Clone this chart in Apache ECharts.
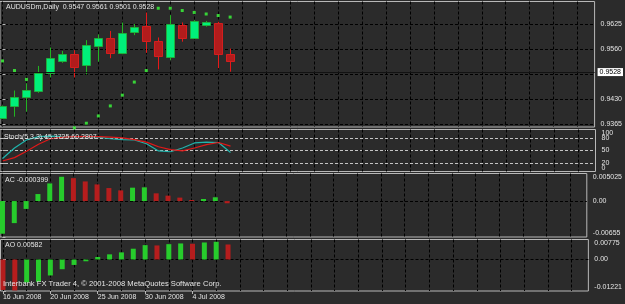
<!DOCTYPE html>
<html>
<head>
<meta charset="utf-8" />
<title>AUDUSDm,Daily</title>
<style>
  html, body { margin: 0; padding: 0; background: #2b2b2b; }
  #chart { width: 625px; height: 304px; }
</style>
</head>
<body>
<div id="chart"></div>
<script src="https://cdn.jsdelivr.net/npm/echarts@6/dist/echarts.min.js"></script>
<script>
// daily bars from 16 Jun 2008, bar index = position on the chart
var dateLabels = ['16 Jun 2008', '20 Jun 2008', '25 Jun 2008', '30 Jun 2008', '4 Jul 2008'];
var dateTicks = [0, 4, 8, 12, 16];
var gridTicks = [0, 2, 4, 6, 8, 10, 12, 14, 16, 18, 20, 22, 24, 26, 28, 30, 32, 34, 36, 38, 40, 42, 44, 46, 48];

var opens  = [0.9381, 0.9412, 0.9436, 0.9452, 0.9497, 0.9528, 0.9547, 0.9517, 0.9569, 0.9589,
              0.9549, 0.9605, 0.9621, 0.9582, 0.9540, 0.9622, 0.9589, 0.9621, 0.9627, 0.9547];
var highs  = [0.9413, 0.9452, 0.9471, 0.9516, 0.9564, 0.9555, 0.9557, 0.9583, 0.9598, 0.9607,
              0.9629, 0.9625, 0.9655, 0.9590, 0.9648, 0.9629, 0.9635, 0.9633, 0.9631, 0.9561];
var lows   = [0.9379, 0.9384, 0.9397, 0.9446, 0.9486, 0.9524, 0.9486, 0.9494, 0.9527, 0.9536,
              0.9546, 0.9596, 0.9550, 0.9507, 0.9531, 0.9579, 0.9588, 0.9618, 0.9510, 0.9501];
var closes = [0.9412, 0.9436, 0.9453, 0.9498, 0.9537, 0.9547, 0.9514, 0.9570, 0.9589, 0.9550,
              0.9601, 0.9618, 0.9582, 0.9542, 0.9625, 0.9589, 0.9634, 0.9629, 0.9546, 0.9528];

// parabolic SAR (bars 3-5 sit below the visible price range)
var sar = [0.9529, 0.9504, 0.9481, null, null, null, 0.9355, 0.9367, 0.9386, 0.9412,
           0.9440, 0.9474, 0.9504, 0.9666, 0.9666, 0.9660, 0.9655, 0.9651, 0.9647, 0.9643];

var stochMain   = [31, 56, 75, 83, 84, 83, 83, 83, 82, 78, 76, 75, 66, 49, 47, 56, 68, 70, 69, 45.3725];
var stochSignal = [25, 33, 48, 65, 78, 82, 83, 83, 83, 82, 80, 76, 70, 59, 52, 49, 56, 64, 69, 60.2807];

var acValues = [-0.00595, -0.00402, -0.00143, 0.00128, 0.00322, 0.00443, 0.00418, 0.00358, 0.00304, 0.00237,
                0.00195, 0.00244, 0.00250, 0.00141, 0.00099, 0.00063, 0.00020, 0.00038, 0.00069, -0.000399];
var aoValues = [-0.01180, -0.01200, -0.00894, -0.00868, -0.00619, -0.00377, -0.00211, -0.00069, 0.00096, 0.00200,
                0.00276, 0.00418, 0.00557, 0.00545, 0.00595, 0.00622, 0.00610, 0.00660, 0.00687, 0.00582];
var acPrev = -0.0072;   // value of the bar just left of the window
var aoPrev = -0.0110;

var priceTicks = [0.9365, 0.9430, 0.9495, 0.9560, 0.9625];
var stochTicks = [0, 20, 50, 80, 100];
var stochEnds = [0, 100];
var stochLevels = [20, 50, 80];
var acTicks = [-0.00655, 0, 0.005025];
var aoTicks = [-0.01221, 0, 0.00775];

var FONT = 'Liberation Sans';
var TXT = '#e4e4e4';
var BORDER = '#b8b8b8';
var UP_BODY = '#00f07a', UP_EDGE = '#1fae3c', UP_WICK = '#22b422';
var DN_BODY = '#b21c1c', DN_EDGE = '#d41e1e', DN_WICK = '#e81818';
var HIST_UP = '#27cc2c', HIST_DN = '#b51d1d';

var last = closes.length - 1;

var chart = echarts.init(document.getElementById('chart'));

// 12 px per bar, first bar centred at x = 2.5
var PLOT_W = 595.5;
var X_MIN = -2.5 / 12, X_MAX = X_MIN + PLOT_W / 12;
var gridBase = { left: 0, right: 625 - PLOT_W, show: true, borderColor: BORDER, borderWidth: 1 };
var grids = [
  Object.assign({ top: 1.5, height: 125.5 }, gridBase),
  Object.assign({ top: 129.5, height: 42 }, gridBase),
  Object.assign({ top: 173.5, height: 63.5 }, gridBase),
  Object.assign({ top: 239.5, height: 51.5 }, gridBase)
];

function xAxisFor(i) {
  return {
    type: 'value', gridIndex: i, min: X_MIN, max: X_MAX, position: 'bottom',
    axisLine: { show: false }, axisLabel: { show: false },
    axisTick: { show: false, customValues: gridTicks },
    splitLine: { show: true, lineStyle: { color: '#000', type: [3, 2], width: 1 } }
  };
}

function yAxisFor(i, min, max, ticks, labels, fmt, splitColors) {
  return {
    type: 'value', gridIndex: i, position: 'right', min: min, max: max,
    axisLine: { show: false },
    axisTick: { show: true, customValues: ticks, length: 3, lineStyle: { color: BORDER } },
    axisLabel: {
      show: true, customValues: labels, formatter: fmt, margin: 6,
      showMinLabel: true, showMaxLabel: true, hideOverlap: false,
      color: TXT, fontSize: 7, fontFamily: FONT,
      verticalAlignMinLabel: i === 0 ? null : 'bottom',
      verticalAlignMaxLabel: i === 0 ? null : 'top'
    },
    splitLine: { show: true, lineStyle: { color: splitColors, type: [3, 2], width: 1 } }
  };
}

var xAxes = [xAxisFor(0), xAxisFor(1), xAxisFor(2), xAxisFor(3), {
  type: 'value', gridIndex: 3, min: X_MIN, max: X_MAX, position: 'bottom',
  axisLine: { show: false }, splitLine: { show: false },
  axisTick: { show: true, customValues: dateTicks, length: 3, lineStyle: { color: BORDER } },
  axisLabel: {
    show: true, customValues: dateTicks, align: 'left', margin: 3,
    color: TXT, fontSize: 7, fontFamily: FONT,
    formatter: function (v) { return dateLabels[dateTicks.indexOf(v)]; }
  }
}];

var numFmt = function (v) { return v === 0 ? '0.00' : String(v); };

var yAxes = [
  yAxisFor(0, 0.93572, 0.96835, priceTicks, priceTicks, function (v) { return v.toFixed(4); }, '#000'),
  yAxisFor(1, 0, 100, stochTicks, stochEnds, function (v) { return String(v); },
    ['transparent', '#c4c4c4', '#c4c4c4', '#c4c4c4', 'transparent']),
  yAxisFor(2, acTicks[0], acTicks[2], acTicks, acTicks, numFmt, ['transparent', '#000', 'transparent']),
  yAxisFor(3, aoTicks[0], aoTicks[2], aoTicks, aoTicks, numFmt, ['transparent', '#000', 'transparent']),
  {
    // stochastic level labels, kept on their own axis so they may overlap 0 / 100
    type: 'value', gridIndex: 1, position: 'right', min: 0, max: 100,
    axisLine: { show: false }, axisTick: { show: false }, splitLine: { show: false },
    axisLabel: {
      show: true, customValues: stochLevels, margin: 6,
      showMinLabel: true, showMaxLabel: true,
      color: TXT, fontSize: 7, fontFamily: FONT
    }
  }
];

var candleData = opens.map(function (o, i) { return [i, o, closes[i], lows[i], highs[i]]; });
var sarData = sar.map(function (v, i) { return [i, v]; }).filter(function (d) { return d[1] != null; });

function histColor(values, prev) {
  return function (p) {
    var before = p.dataIndex === 0 ? prev : values[p.dataIndex - 1];
    return values[p.dataIndex] >= before ? HIST_UP : HIST_DN;
  };
}

function titleText(text, left, top, size) {
  return {
    text: text, left: left, top: top, padding: 0,
    textStyle: { color: TXT, fontSize: size || 7, fontWeight: 'normal', fontFamily: FONT, lineHeight: 8 }
  };
}

var option = {
  backgroundColor: '#2b2b2b',
  animation: false,
  title: [
    titleText('AUDUSDm,Daily  ' + [opens[last], highs[last], lows[last], closes[last]].map(function (v) { return v.toFixed(4); }).join(' '), 6, 3),
    titleText('Stoch(5,3,3) ' + stochMain[last].toFixed(4) + ' ' + stochSignal[last].toFixed(4), 4, 133),
    titleText('AC ' + acValues[last].toFixed(6), 5, 176),
    titleText('AO ' + aoValues[last].toFixed(5), 5, 241),
    titleText('Interbank FX Trader 4, \u00a9 2001-2008 MetaQuotes Software Corp.', 3, 280, 7.6)
  ],
  grid: grids,
  xAxis: xAxes,
  yAxis: yAxes,
  series: [
    {
      type: 'scatter', xAxisIndex: 0, yAxisIndex: 0, data: sarData, clip: false,
      symbol: 'rect', symbolSize: 3, itemStyle: { color: '#3cff3c' }, z: 2,
      markLine: {
        silent: true, symbol: 'none', animation: false,
        lineStyle: { color: '#121212', type: 'solid', width: 1 },
        label: {
          position: 'end', distance: 3, formatter: closes[last].toFixed(4),
          backgroundColor: '#ffffff', color: '#000', padding: [1, 2, 0, 2],
          fontSize: 7, fontFamily: FONT
        },
        data: [{ yAxis: closes[last] }]
      }
    },
    {
      type: 'custom', xAxisIndex: 0, yAxisIndex: 0, data: candleData, z: 3, clip: false,
      encode: { x: 0, y: [1, 2, 3, 4] },
      renderItem: function (params, api) {
        var i = api.value(0);
        var o = api.value(1), c = api.value(2), l = api.value(3), h = api.value(4);
        var up = c >= o;
        var pO = api.coord([i, o]), pC = api.coord([i, c]);
        var pL = api.coord([i, l]), pH = api.coord([i, h]);
        var cx = Math.floor(pO[0]) + 0.5;
        var top = Math.round(Math.min(pO[1], pC[1])) + 0.5;
        var hgt = Math.max(1, Math.round(Math.abs(pO[1] - pC[1])));
        return {
          type: 'group',
          children: [
            { type: 'line', shape: { x1: cx, y1: pH[1], x2: cx, y2: pL[1] },
              style: { stroke: up ? UP_WICK : DN_WICK, lineWidth: 1 } },
            { type: 'rect', shape: { x: cx - 4, y: top, width: 8, height: hgt },
              style: { fill: up ? UP_BODY : DN_BODY, stroke: up ? UP_EDGE : DN_EDGE, lineWidth: 1 } }
          ]
        };
      }
    },
    {
      type: 'line', xAxisIndex: 1, yAxisIndex: 1, showSymbol: false, z: 3,
      data: stochMain.map(function (v, i) { return [i, v]; }),
      lineStyle: { color: '#1fb5ad', width: 1.2 }
    },
    {
      type: 'line', xAxisIndex: 1, yAxisIndex: 1, showSymbol: false, z: 4,
      data: stochSignal.map(function (v, i) { return [i, v]; }),
      lineStyle: { color: '#e01818', width: 1.2 }
    },
    {
      type: 'bar', xAxisIndex: 2, yAxisIndex: 2, barWidth: 5, clip: false,
      data: acValues.map(function (v, i) { return [i, v]; }),
      itemStyle: { color: histColor(acValues, acPrev) }
    },
    {
      type: 'bar', xAxisIndex: 3, yAxisIndex: 3, barWidth: 5, clip: false,
      data: aoValues.map(function (v, i) { return [i, v]; }),
      itemStyle: { color: histColor(aoValues, aoPrev) }
    }
  ]
};

chart.setOption(option);
</script>
</body>
</html>
